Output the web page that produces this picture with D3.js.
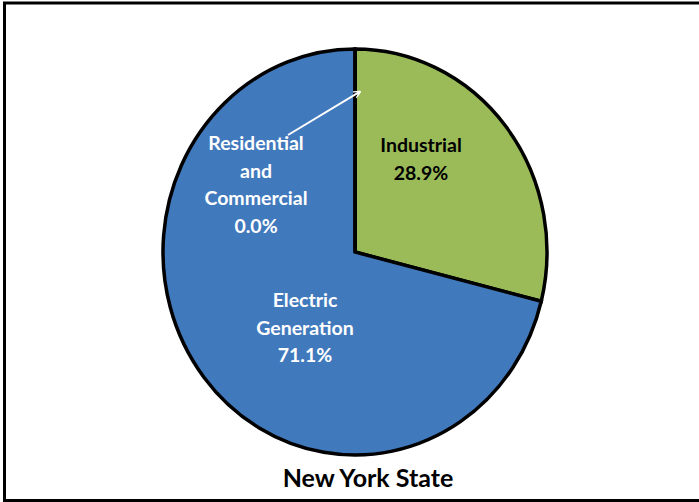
<!DOCTYPE html>
<html>
<head>
<meta charset="utf-8">
<script src="https://cdn.jsdelivr.net/npm/d3@7"></script>
<style>
  body { margin: 0; background: #fff; }
  text { font-family: Lato, "Open Sans", sans-serif; font-weight: bold; }
</style>
</head>
<body>
<div id="chart"></div>
<script>
// data
var categories = ['Industrial', 'Electric Generation', 'Residential and Commercial'];
var shares     = [28.9, 71.1, 0.0];
var colors     = ['#9BBB59', '#4179BD', '#4179BD'];
var title      = 'New York State';

var width = 699, height = 502;
var cx = 355, cy = 252, rx = 192, ry = 203;

var svg = d3.select('#chart').append('svg')
  .attr('width', width)
  .attr('height', height);

// frame (right side runs off the picture)
svg.append('path')
  .attr('d', 'M' + width + ',3 L4.5,3 L4.5,500.5 L' + width + ',500.5')
  .style('fill', 'none')
  .style('stroke', '#000')
  .style('stroke-width', 3);

var pie = d3.pie().sort(null).value(function(d) { return d; });
var arc = d3.arc().innerRadius(0).outerRadius(rx);
var arcs = pie(shares);

var g = svg.append('g')
  .attr('transform', 'translate(' + cx + ',' + cy + ') scale(1,' + (ry / rx) + ')');

g.selectAll('path.slice')
  .data(arcs)
  .enter().append('path')
  .attr('class', 'slice')
  .attr('d', arc)
  .style('fill', function(d, i) { return colors[i]; })
  .style('stroke', '#000')
  .style('stroke-width', 3.5)
  .style('stroke-linejoin', 'miter')
  .attr('vector-effect', 'non-scaling-stroke');

// labels
var fmt = d3.format('.1f');
var labels = [
  {lines: ['Industrial'], x: 421, y: 152, fill: '#000'},
  {lines: ['Electric', 'Generation'], x: 305, y: 307, fill: '#fff'},
  {lines: ['Residential', 'and', 'Commercial'], x: 256, y: 150, fill: '#fff'}
];
var lineGap = 27.5;

labels.forEach(function(l, i) {
  var t = svg.append('text')
    .attr('x', l.x)
    .attr('y', l.y)
    .style('fill', l.fill)
    .style('font-size', '19.5px')
    .style('text-anchor', 'middle');
  l.lines.concat([fmt(shares[i]) + '%']).forEach(function(s, k) {
    t.append('tspan')
      .attr('x', l.x)
      .attr('y', l.y + k * lineGap)
      .text(s);
  });
});

// arrow from the 0.0% label to its (empty) slice at the top
var a = arcs[2];
var tip = [cx + Math.sin(a.startAngle) * rx + 5, cy - Math.cos(a.startAngle) * ry * 0.79];
var start = [288, 135];
svg.append('defs').append('marker')
  .attr('id', 'head')
  .attr('viewBox', '0 0 10 10')
  .attr('refX', 9).attr('refY', 5)
  .attr('markerWidth', 7).attr('markerHeight', 7)
  .attr('markerUnits', 'userSpaceOnUse')
  .attr('orient', 'auto')
  .append('path')
  .attr('d', 'M0,0 L10,5 L0,10')
  .style('fill', 'none')
  .style('stroke', '#fff')
  .style('stroke-width', 2);
svg.append('line')
  .attr('x1', start[0]).attr('y1', start[1])
  .attr('x2', tip[0]).attr('y2', tip[1])
  .style('stroke', '#fff')
  .style('stroke-width', 2)
  .attr('marker-end', 'url(#head)');

// title
svg.append('text')
  .attr('x', 368)
  .attr('y', 487)
  .style('font-size', '25px')
  .style('text-anchor', 'middle')
  .style('fill', '#000')
  .text(title);
</script>
</body>
</html>
